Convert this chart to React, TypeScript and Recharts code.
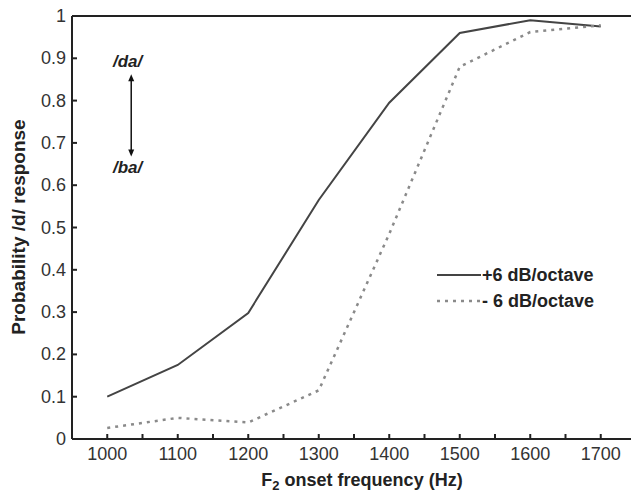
import * as React from 'react';
import { LineChart, Line, XAxis, YAxis, ReferenceLine } from 'recharts';

const FREQS = [1000, 1100, 1200, 1300, 1400, 1500, 1600, 1700];
const PLUS6 = [0.1, 0.175, 0.298, 0.565, 0.795, 0.96, 0.99, 0.975];
const MINUS6 = [0.026, 0.05, 0.039, 0.115, 0.485, 0.88, 0.962, 0.978];

const X_TICKS = [1000, 1050, 1100, 1150, 1200, 1250, 1300, 1350, 1400, 1450, 1500, 1550, 1600, 1650, 1700];
const Y_TICKS = [0, 0.1, 0.2, 0.3, 0.4, 0.5, 0.6, 0.7, 0.8, 0.9, 1];

const SERIES_NAMES = ['+6 dB/octave', '- 6 dB/octave'];

const data = FREQS.map((freq, i) => ({ freq, plus: PLUS6[i], minus: MINUS6[i] }));

const FONT = '"Liberation Sans", Arial, sans-serif';
const AXIS = '#222';

function XTick({ x, y, payload }: any) {
  const v = payload.value as number;
  return (
    <g>
      <line x1={x} x2={x} y1={y} y2={y - 5} stroke={AXIS} strokeWidth={2} />
      {v % 100 === 0 && (
        <text x={x} y={y + 21} textAnchor="middle" fontSize={18} fill="#333" fontFamily={FONT}>
          {v}
        </text>
      )}
    </g>
  );
}

function YTick({ x, y, payload }: any) {
  return (
    <g>
      <line x1={x} x2={x + 5} y1={y} y2={y} stroke={AXIS} strokeWidth={2} />
      <text x={x - 6} y={y + 6} textAnchor="end" fontSize={18} fill="#333" fontFamily={FONT}>
        {String(payload.value)}
      </text>
    </g>
  );
}

function Arrow(props: any) {
  const { x1, y1, x2, y2 } = props;
  const top = Math.min(y1, y2);
  const bot = Math.max(y1, y2);
  return (
    <g>
      <line x1={x1} x2={x2} y1={top + 4} y2={bot - 4} stroke="#111" strokeWidth={1.5} />
      <polygon points={`${x1},${top} ${x1 - 3},${top + 7} ${x1 + 3},${top + 7}`} fill="#111" />
      <polygon points={`${x1},${bot} ${x1 - 3},${bot - 7} ${x1 + 3},${bot - 7}`} fill="#111" />
    </g>
  );
}

export default function App() {
  const textStyle: React.CSSProperties = {
    position: 'absolute',
    fontFamily: FONT,
    fontWeight: 'bold',
    fontSize: 18,
    color: '#222',
    whiteSpace: 'nowrap',
    lineHeight: 1,
  };

  return (
    <div
      style={{
        position: 'absolute',
        left: 0,
        top: 0,
        width: 631,
        height: 492,
        overflow: 'hidden',
        background: '#fff',
      }}
    >
      <LineChart
        width={640}
        height={492}
        data={data}
        margin={{ top: 16, right: 4, bottom: 23, left: 0 }}
      >
        <XAxis
          dataKey="freq"
          type="number"
          domain={[950, 1750]}
          ticks={X_TICKS}
          interval={0}
          height={30}
          tickSize={0}
          tickMargin={0}
          tickLine={false}
          axisLine={{ stroke: AXIS, strokeWidth: 2 }}
          tick={<XTick />}
        />
        <YAxis
          type="number"
          domain={[0, 1]}
          ticks={Y_TICKS}
          interval={0}
          width={72}
          tickSize={0}
          tickMargin={0}
          tickLine={false}
          axisLine={{ stroke: AXIS, strokeWidth: 2 }}
          tick={<YTick />}
        />
        <ReferenceLine y={1} stroke={AXIS} strokeWidth={2} />
        <ReferenceLine
          segment={[
            { x: 1034, y: 0.862 },
            { x: 1034, y: 0.668 },
          ]}
          shape={(p: any) => <Arrow {...p} />}
        />
        <Line
          type="linear"
          dataKey="plus"
          name={SERIES_NAMES[0]}
          stroke="#444"
          strokeWidth={2}
          dot={false}
          isAnimationActive={false}
        />
        <Line
          type="linear"
          dataKey="minus"
          name={SERIES_NAMES[1]}
          stroke="#8a8a8a"
          strokeWidth={2.5}
          strokeDasharray="3 5"
          dot={false}
          isAnimationActive={false}
        />
      </LineChart>

      <div style={{ ...textStyle, left: 113, top: 53, fontStyle: 'italic', fontSize: 17 }}>/da/</div>
      <div style={{ ...textStyle, left: 113, top: 159, fontStyle: 'italic', fontSize: 17 }}>/ba/</div>

      <svg style={{ position: 'absolute', left: 437, top: 265 }} width={46} height={46}>
        <line x1={0} x2={44} y1={10} y2={10} stroke="#444" strokeWidth={2} />
        <line x1={0} x2={44} y1={36} y2={36} stroke="#8a8a8a" strokeWidth={2.5} strokeDasharray="3 5" />
      </svg>
      <div style={{ ...textStyle, left: 482, top: 266 }}>{SERIES_NAMES[0]}</div>
      <div style={{ ...textStyle, left: 482, top: 292 }}>{SERIES_NAMES[1]}</div>

      <div
        style={{
          ...textStyle,
          fontSize: 19,
          left: 18,
          top: 227,
          transform: 'translate(-50%, -50%) rotate(-90deg)',
        }}
      >
        Probability /d/ response
      </div>
      <div style={{ ...textStyle, left: 362, top: 471, transform: 'translateX(-50%)' }}>
        F<sub style={{ fontSize: 13, verticalAlign: 'baseline', position: 'relative', top: 4 }}>2</sub> onset
        frequency (Hz)
      </div>
    </div>
  );
}
